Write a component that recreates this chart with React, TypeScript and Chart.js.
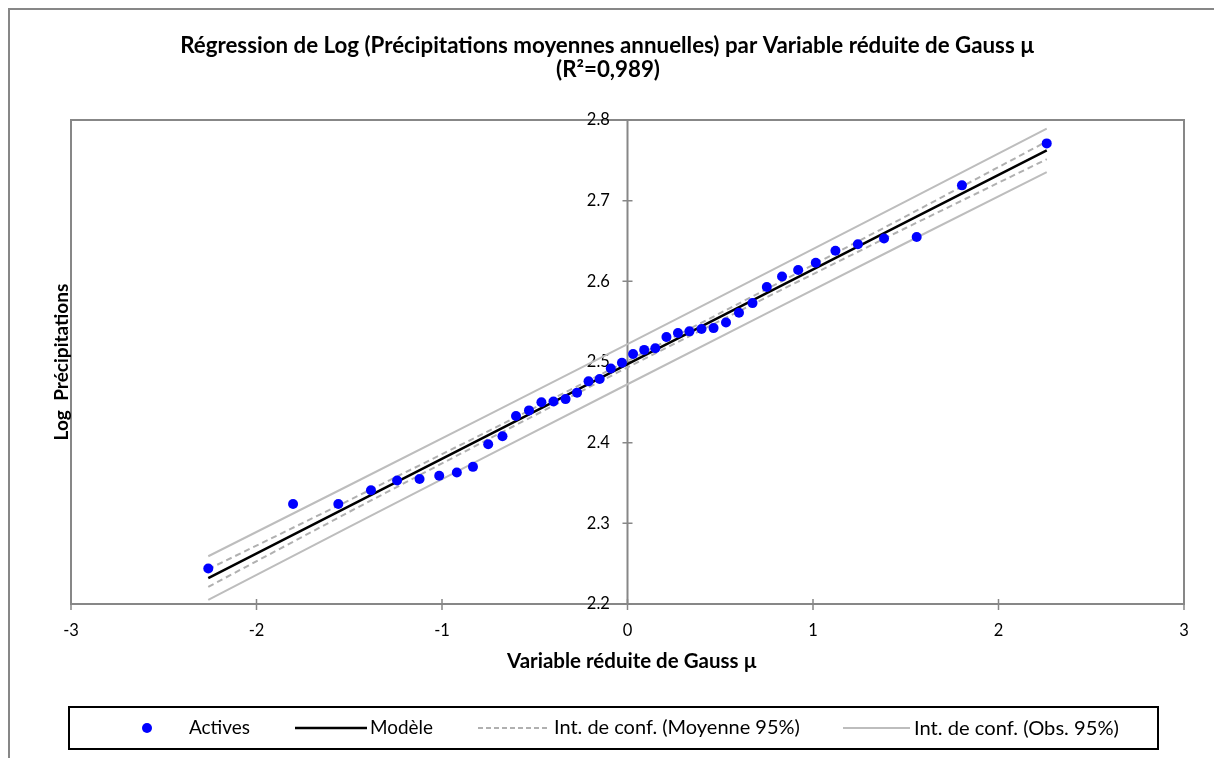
import { useEffect, useRef } from "react";
import { Chart, registerables } from "chart.js";

Chart.register(...registerables);

// Observed points: standard normal variate vs log of mean annual rainfall
const gaussX = [
  -2.26, -1.803, -1.559, -1.383, -1.242, -1.121, -1.015, -0.92, -0.833, -0.751,
  -0.674, -0.601, -0.531, -0.464, -0.399, -0.334, -0.272, -0.21, -0.15, -0.09,
  -0.03, 0.03, 0.09, 0.15, 0.21, 0.272, 0.334, 0.399, 0.464, 0.531,
  0.601, 0.674, 0.751, 0.833, 0.92, 1.015, 1.121, 1.242, 1.383, 1.559,
  1.803, 2.26,
];
const logPrecip = [
  2.244, 2.324, 2.324, 2.341, 2.353, 2.355, 2.359, 2.363, 2.37, 2.398,
  2.408, 2.433, 2.44, 2.45, 2.451, 2.454, 2.462, 2.476, 2.479, 2.492,
  2.499, 2.51, 2.515, 2.517, 2.531, 2.536, 2.538, 2.541, 2.542, 2.549,
  2.561, 2.573, 2.593, 2.606, 2.614, 2.623, 2.638, 2.646, 2.653, 2.655,
  2.719, 2.771,
];

// Fitted model and confidence bands
const bandX = [-2.26, -1.5, -0.75, 0, 0.75, 1.5, 2.26];
const modelY = [2.2322, 2.3214, 2.4093, 2.4973, 2.5853, 2.6733, 2.7624];
const meanUpper = [2.2432, 2.3286, 2.4143, 2.5013, 2.5903, 2.6805, 2.7734];
const meanLower = [2.2212, 2.3142, 2.4043, 2.4933, 2.5803, 2.6661, 2.7514];
const obsUpper = [2.2592, 2.3472, 2.4344, 2.5222, 2.6104, 2.6991, 2.7894];
const obsLower = [2.2052, 2.2956, 2.3842, 2.4724, 2.5602, 2.6475, 2.7354];

const xTicks = [-3, -2, -1, 0, 1, 2, 3];
const yTicks = [2.2, 2.3, 2.4, 2.5, 2.6, 2.7, 2.8];

const titleLine1 =
  "Régression de Log (Précipitations moyennes annuelles) par Variable réduite de Gauss µ";
const titleLine2 = "(R²=0,989)";
const xTitle = "Variable réduite de Gauss µ";
const yTitle = "Log  Précipitations";
const legendLabels = [
  "Actives",
  "Modèle",
  "Int. de conf. (Moyenne 95%)",
  "Int. de conf. (Obs. 95%)",
];

const FONT = "Lato";
const AXIS_GREY = "#878787";
const POINT_BLUE = "#0000ff";
const MEAN_GREY = "#b0b0b0";
const OBS_GREY = "#bdbdbd";

const pairs = (xs: number[], ys: number[]) => xs.map((x, i) => ({ x, y: ys[i] }));

// Draws text scaled so that it spans the given width; returns the font size used
function fitText(
  ctx: CanvasRenderingContext2D,
  text: string,
  x: number,
  y: number,
  width: number,
  weight: string,
  align: CanvasTextAlign
) {
  ctx.font = `${weight} 20px ${FONT}`;
  const w = ctx.measureText(text).width;
  const size = (20 * width) / w;
  ctx.font = `${weight} ${size}px ${FONT}`;
  ctx.textAlign = align;
  ctx.textBaseline = "middle";
  ctx.fillStyle = "#000";
  ctx.fillText(text, x, y);
  return size;
}

const framePlugin = {
  id: "frame",
  beforeDraw(chart: any) {
    const { ctx, chartArea, scales } = chart;
    const { left, top, right, bottom } = chartArea;
    const xs = scales.x;
    const ys = scales.y;
    ctx.save();
    ctx.fillStyle = "#fff";
    ctx.fillRect(0, 0, chart.width, chart.height);

    // outer frame
    ctx.strokeStyle = AXIS_GREY;
    ctx.lineWidth = 2;
    ctx.strokeRect(9, 9, chart.width + 20, chart.height + 20);

    // plot area frame
    ctx.strokeRect(left, top, right - left, bottom - top);

    // vertical axis through x = 0
    const x0 = xs.getPixelForValue(0);
    ctx.lineWidth = 2;
    ctx.beginPath();
    ctx.moveTo(x0, top);
    ctx.lineTo(x0, bottom);
    ctx.stroke();

    ctx.lineWidth = 1.5;
    ctx.beginPath();
    yTicks.forEach((v) => {
      const py = ys.getPixelForValue(v);
      ctx.moveTo(x0 - 5, py);
      ctx.lineTo(x0 + 5, py);
    });
    xTicks.forEach((v) => {
      const px = xs.getPixelForValue(v);
      ctx.moveTo(px, v === 3 || v === -3 ? bottom : bottom - 5);
      ctx.lineTo(px, bottom + 6);
    });
    ctx.stroke();
    ctx.restore();
  },
  afterDraw(chart: any) {
    const { ctx, chartArea } = chart;
    ctx.save();

    // titles
    const titleSize = fitText(ctx, titleLine1, 607.5, 46, 855, "bold", "center");
    ctx.font = `bold ${titleSize}px ${FONT}`;
    ctx.textAlign = "center";
    ctx.fillText(titleLine2, 608, 70);
    fitText(ctx, xTitle, 632, 661, 250, "bold", "center");

    ctx.save();
    ctx.translate(62, (chartArea.top + chartArea.bottom) / 2);
    ctx.rotate(-Math.PI / 2);
    fitText(ctx, yTitle, 0, 0, 157, "bold", "center");
    ctx.restore();

    // legend
    const ly = 728;
    ctx.strokeStyle = "#000";
    ctx.lineWidth = 2;
    ctx.strokeRect(69, 707, 1158 - 69, 42);

    ctx.fillStyle = POINT_BLUE;
    ctx.beginPath();
    ctx.arc(147, ly, 5, 0, Math.PI * 2);
    ctx.fill();
    fitText(ctx, legendLabels[0], 189, ly, 61, "normal", "left");

    ctx.strokeStyle = "#000";
    ctx.lineWidth = 2.5;
    ctx.beginPath();
    ctx.moveTo(295, ly);
    ctx.lineTo(367, ly);
    ctx.stroke();
    fitText(ctx, legendLabels[1], 370, ly, 63, "normal", "left");

    ctx.strokeStyle = MEAN_GREY;
    ctx.lineWidth = 2;
    ctx.setLineDash([5, 3]);
    ctx.beginPath();
    ctx.moveTo(478, ly);
    ctx.lineTo(550, ly);
    ctx.stroke();
    ctx.setLineDash([]);
    fitText(ctx, legendLabels[2], 554, ly, 246, "normal", "left");

    ctx.strokeStyle = OBS_GREY;
    ctx.lineWidth = 2;
    ctx.beginPath();
    ctx.moveTo(843, ly);
    ctx.lineTo(910, ly);
    ctx.stroke();
    fitText(ctx, legendLabels[3], 914, ly, 205, "normal", "left");

    ctx.restore();
  },
};

export default function App() {
  const canvasRef = useRef<HTMLCanvasElement | null>(null);

  useEffect(() => {
    const canvas = canvasRef.current;
    if (!canvas) return;

    const lineSet = (label: string, ys: number[], color: string, width: number, dash: number[]) => ({
      type: "line" as const,
      label,
      data: pairs(bandX, ys),
      borderColor: color,
      borderWidth: width,
      borderDash: dash,
      pointRadius: 0,
      fill: false,
      showLine: true,
      tension: 0,
    });

    const chart = new Chart(canvas, {
      type: "scatter",
      data: {
        datasets: [
          {
            label: legendLabels[0],
            data: pairs(gaussX, logPrecip),
            backgroundColor: POINT_BLUE,
            borderColor: POINT_BLUE,
            pointRadius: 5,
            pointBorderWidth: 0,
            showLine: false,
          },
          lineSet(legendLabels[1], modelY, "#000", 2.5, []),
          lineSet(legendLabels[2], meanUpper, MEAN_GREY, 2, [6, 4]),
          lineSet(legendLabels[2], meanLower, MEAN_GREY, 2, [6, 4]),
          lineSet(legendLabels[3], obsUpper, OBS_GREY, 2, []),
          lineSet(legendLabels[3], obsLower, OBS_GREY, 2, []),
        ] as any,
      },
      options: {
        animation: false,
        responsive: false,
        devicePixelRatio: 1,
        layout: { padding: { left: 71, right: 30, top: 120, bottom: 114 } },
        plugins: {
          legend: { display: false },
          title: { display: false },
          tooltip: { enabled: false },
        },
        scales: {
          x: {
            type: "linear",
            position: "bottom",
            min: -3,
            max: 3,
            afterBuildTicks: (s: any) => {
              s.ticks = xTicks.map((value) => ({ value }));
            },
            afterFit: (s: any) => {
              s.height = 40;
            },
            grid: { display: false },
            border: { display: false },
            ticks: {
              color: "#000",
              padding: 9,
              maxRotation: 0,
              font: { family: FONT, size: 16.5 },
            },
          },
          y: {
            type: "linear",
            // labels sit just left of the zero axis line, clear of the tick marks
            position: { x: -0.095 } as any,
            min: 2.2,
            max: 2.8,
            afterBuildTicks: (s: any) => {
              s.ticks = yTicks.map((value) => ({ value }));
            },
            grid: { display: false },
            border: { display: false },
            ticks: {
              color: "#000",
              padding: 0,
              font: { family: FONT, size: 16.5 },
              callback: (v: any) => Number(v).toFixed(1),
            },
          },
        },
      },
      plugins: [framePlugin],
    });

    return () => chart.destroy();
  }, []);

  return (
    <div style={{ position: "fixed", left: 0, top: 0, width: 1214, height: 758, background: "#fff" }}>
      <canvas ref={canvasRef} width={1214} height={758} style={{ display: "block" }} />
    </div>
  );
}
